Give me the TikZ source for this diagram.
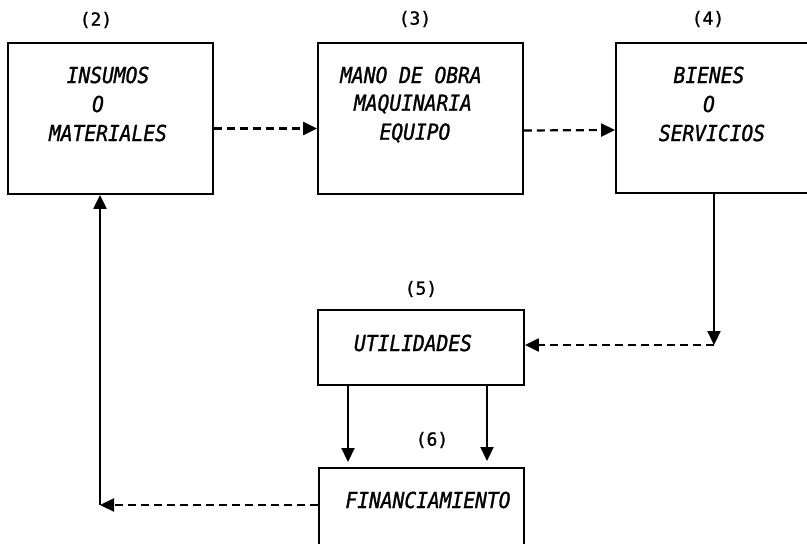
\documentclass[tikz,border=0pt]{standalone}
\usepackage{fontspec}
\newfontfamily\boxfont[FakeStretch=0.89,FakeBold=1.2]{DejaVu Sans Mono}
\newfontfamily\numfont[FakeBold=1.2]{DejaVu Sans Mono}
\usetikzlibrary{arrows.meta}
\begin{document}
\begin{tikzpicture}[x=1pt,y=-1pt,
  box/.style={draw, line width=1.8pt, inner sep=0pt},
  lbl/.style={font=\fontsize{18}{18}\selectfont\numfont, inner sep=0pt},
  txt/.style={font=\fontsize{22}{22}\selectfont\boxfont\itshape, inner sep=0pt},
  conn/.style={line width=2.2pt, -{Triangle[length=14pt,width=13pt]}},
  dconn/.style={conn, dash pattern=on 8pt off 5pt}]
\useasboundingbox (0,0) rectangle (807,544);
\clip (0,0) rectangle (807,544);
\fill[white] (0,0) rectangle (807,544);
% boxes
\node[box, minimum width=205pt, minimum height=151pt] (b2) at (110.5,118.5) {};
\node[box, minimum width=205pt, minimum height=151pt] (b3) at (420.5,118.5) {};
\node[box, minimum width=199pt, minimum height=150pt] (b4) at (715.5,118) {};
\node[box, minimum width=206pt, minimum height=75pt] (b5) at (421,347.5) {};
\node[box, minimum width=205pt, minimum height=152pt] (b6) at (421.5,544) {};
% numbers
\node[lbl] (l2) at (96,20) {(2)};
\node[lbl] (l3) at (415,19) {(3)};
\node[lbl] (l4) at (708,19) {(4)};
\node[lbl] (l5) at (421,289) {(5)};
\node[lbl] (l6) at (432,440) {(6)};
% texts
\node[txt] (t2a) at (108,75) {INSUMOS};
\node[txt] (t2b) at (98,104) {O};
\node[txt] (t2c) at (108,133) {MATERIALES};
\node[txt] (t3a) at (411,75) {MANO DE OBRA};
\node[txt] (t3b) at (413,104) {MAQUINARIA};
\node[txt] (t3c) at (415,133) {EQUIPO};
\node[txt] (t4a) at (709,75) {BIENES};
\node[txt] (t4b) at (709,104) {O};
\node[txt] (t4c) at (712,133) {SERVICIOS};
\node[txt] (t5) at (413,343) {UTILIDADES};
\node[txt] (t6) at (428,500) {FINANCIAMIENTO};
% connectors
\coordinate (c1) at (714,345);
\coordinate (c2) at (100,505);
\coordinate (c3) at (348,462);
\coordinate (c4) at (487,461);
\draw[dconn] ([yshift=-10pt]b2.east) -- ([yshift=-10pt]b3.west);
\draw[dconn] ([yshift=-12pt]b3.east) -- ([yshift=-12pt]b4.west);
\draw[conn] (b4.south -| c1) -- (c1);
\draw[dconn] (c1) -- (b5.east |- c1);
\draw[conn] (b5.south -| c3) -- (c3);
\draw[conn] (b5.south -| c4) -- (c4);
\draw[dconn] (b6.west |- c2) -- (c2);
\draw[conn] (c2) -- (b2.south -| c2);
\end{tikzpicture}
\end{document}
